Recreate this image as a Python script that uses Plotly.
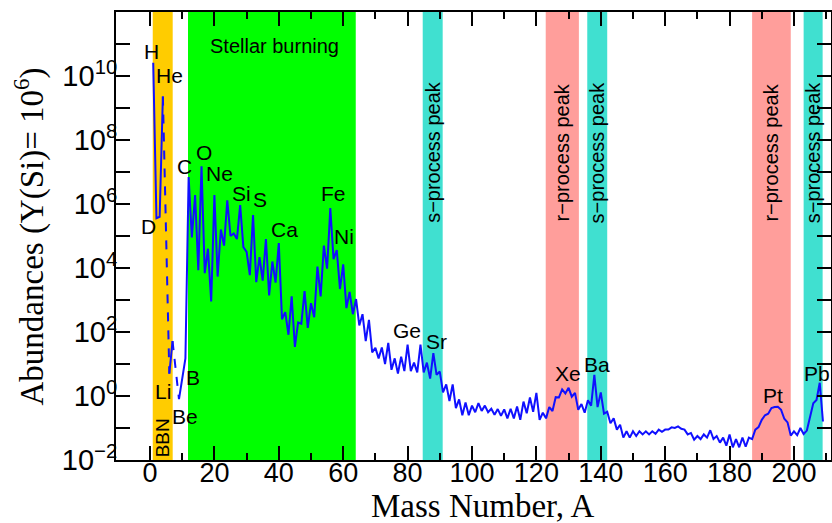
import plotly.graph_objects as go

# ---------------- data ----------------
mass = [1, 2, 3, 4, 6, 7, 9, 10, 11] + list(range(12, 210))

abund = [
    2.6e10, 3.6e5, 4.0e5, 2.3e9,          # 1,2,3,4
    5.0, 52.0, 0.8, 4.0, 15.0,             # 6,7,9,10,11
    # 12-40
    7.0e6, 9.0e4, 1.9e6, 8.5e3, 1.5e7, 6.9e3, 4.0e4, 900.0, 1.9e6,
    5.4e3, 1.6e5, 5.0e4, 1.3e6, 1.0e5, 1.2e5, 8.0e4, 9.2e5, 4.5e4,
    3.2e4, 6.0e3, 4.5e5, 3.6e3, 2.2e4, 4.0e3, 8.0e4, 1.4e3, 1.6e4,
    3.5e3, 6.0e4,
    # 41-70
    250.0, 420.0, 82.0, 1.3e3, 34.0, 200.0, 180.0, 1.9e3, 135.0, 800.0,
    290.0, 1.1e4, 1.3e3, 5.0e4, 9.5e3, 7.5e5, 1.9e4, 3.6e4, 2.2e3, 1.3e4,
    560.0, 1.8e3, 360.0, 1.07e3, 160.0, 360.0, 52.0, 240.0, 23.0, 32.0,
    # 71-100
    15.0, 33.0, 10.0, 46.0, 6.6, 15.0, 5.0, 17.0, 6.0, 40.0,
    6.0, 11.0, 5.5, 40.0, 5.5, 11.0, 3.5, 22.0, 4.6, 5.8,
    1.3, 2.3, 0.7, 2.3, 0.42, 0.78, 0.25, 0.63, 0.25, 0.5,
    # 101-140
    0.31, 0.6, 0.34, 0.5, 0.31, 0.4, 0.26, 0.39, 0.24, 0.38,
    0.2, 0.4, 0.2, 0.47, 0.18, 0.67, 0.29, 0.9, 0.32, 1.25,
    0.18, 0.3, 0.2, 0.45, 0.34, 0.92, 0.9, 1.6, 1.2, 1.8,
    0.95, 1.25, 0.37, 0.56, 0.3, 0.73, 0.5, 4.6, 0.45, 1.3,
    # 141-180
    0.28, 0.32, 0.14, 0.2, 0.089, 0.126, 0.05, 0.079, 0.05, 0.079,
    0.056, 0.079, 0.063, 0.079, 0.063, 0.079, 0.066, 0.089, 0.076, 0.089,
    0.089, 0.105, 0.1, 0.112, 0.095, 0.089, 0.063, 0.07, 0.043, 0.056,
    0.045, 0.063, 0.05, 0.085, 0.045, 0.056, 0.035, 0.05, 0.028, 0.063,
    # 181-209
    0.025, 0.045, 0.025, 0.05, 0.026, 0.05, 0.045, 0.089, 0.107, 0.18,
    0.25, 0.28, 0.42, 0.45, 0.46, 0.37, 0.195, 0.15, 0.058, 0.079,
    0.06, 0.1, 0.065, 0.083, 0.2, 0.59, 0.75, 2.6, 0.16,
]

# shaded regions (mass number ranges)
band_x0 = [0.85, 11.8, 84.7, 122.9, 135.8, 187.0, 203.0]
band_x1 = [7.05, 63.9, 90.9, 133.2, 142.0, 199.0, 208.9]
band_col = ["#FFCC00", "#00FF00", "#40E0D0", "#FF9E9B", "#40E0D0", "#FF9E9B", "#40E0D0"]

peak_labels = ["s\u2212process peak", "r\u2212process peak", "s\u2212process peak",
               "r\u2212process peak", "s\u2212process peak"]

elem_names = ["H", "He", "D", "Li", "Be", "B", "C", "O", "Ne", "Si", "S", "Ca",
              "Fe", "Ni", "Ge", "Sr", "Xe", "Ba", "Pt", "Pb"]
elem_x = [0.5, 6.2, -0.5, 3.9, 10.9, 13.4, 10.8, 16.8, 21.5, 28.5, 34.2, 41.9,
          57.1, 60.2, 79.7, 89.0, 129.7, 138.7, 193.4, 207.0]
elem_logy = [10.76, 10.03, 5.29, 0.13, -0.65, 0.57, 7.18, 7.62, 6.94, 6.33, 6.13, 5.19,
             6.33, 4.98, 2.04, 1.70, 0.69, 0.97, 0.03, 0.71]

x_ticks = list(range(0, 201, 20))
y_exps = list(range(-2, 13))

# ---------------- figure ----------------
fig = go.Figure()

line_style = dict(color="#1010FF", width=2)

def seg(i0, i1, dash):
    fig.add_trace(go.Scatter(x=mass[i0:i1 + 1], y=abund[i0:i1 + 1], mode="lines",
                             line=dict(dash=dash, **line_style), showlegend=False,
                             hoverinfo="skip"))

seg(0, 3, "solid")     # H, D, He3, He4
seg(3, 4, "dash")      # He4 -> Li6
seg(4, 5, "solid")     # Li6 -> Li7
seg(5, 6, "dash")      # Li7 -> Be9
seg(6, len(mass) - 1, "solid")

shapes = []
for x0, x1, c in zip(band_x0, band_x1, band_col):
    shapes.append(dict(type="rect", xref="x", yref="paper", x0=x0, x1=x1, y0=0, y1=1,
                       fillcolor=c, line=dict(width=0), layer="below"))

ann = []
sans = "Liberation Sans, Arial, sans-serif"
for name, x, ly in zip(elem_names, elem_x, elem_logy):
    ann.append(dict(x=x, y=ly, xref="x", yref="y", text=name, showarrow=False,
                    font=dict(family=sans, size=21, color="black")))

for lab, x0, x1 in zip(peak_labels, band_x0[2:], band_x1[2:]):
    ann.append(dict(x=(x0 + x1) / 2, y=7.62, xref="x", yref="y", text=lab, textangle=-90,
                    showarrow=False, font=dict(family=sans, size=20, color="black")))

ann.append(dict(x=(band_x0[1] + band_x1[1]) / 2 + 0.9, y=10.94, xref="x", yref="y",
                text="Stellar burning", showarrow=False,
                font=dict(family=sans, size=20, color="black")))
ann.append(dict(x=(band_x0[0] + band_x1[0]) / 2, y=-1.3, xref="x", yref="y", text="BBN",
                textangle=-90, showarrow=False,
                font=dict(family=sans, size=19, color="black")))

serif = "Liberation Serif, Times New Roman, serif"
ann.append(dict(x=0.512, y=-0.103, xref="paper", yref="paper", text="Mass Number, A",
                showarrow=False, xanchor="center", yanchor="middle",
                font=dict(family=serif, size=33, color="black")))
ann.append(dict(x=-0.121, y=0.5, xref="paper", yref="paper",
                text="Abundances (Y(Si)= 10<sup>6</sup>)", textangle=-90,
                showarrow=False, xanchor="center", yanchor="middle",
                font=dict(family=serif, size=33, color="black")))

ytext = []
for e in y_exps:
    if e % 2 == 0:
        s = str(e).replace("-", "\u2212")
        ytext.append("10<sup>" + s + "</sup>")
    else:
        ytext.append("")

fig.update_layout(
    width=832, height=523,
    margin=dict(l=116, r=1, t=12, b=63, autoexpand=False),
    paper_bgcolor="white", plot_bgcolor="white",
    shapes=shapes, annotations=ann,
    xaxis=dict(range=[-10.56, 211.5], tickvals=x_ticks, ticks="inside", ticklen=14,
               tickwidth=2, tickcolor="black", showline=True, linewidth=2, linecolor="black",
               mirror="ticks", showgrid=False, zeroline=False, automargin=False,
               ticklabelstandoff=-12,
               tickfont=dict(family=sans, size=27, color="black"),
               minor=dict(tickvals=list(range(10, 211, 20)), ticks="inside", ticklen=7,
                          tickwidth=2, tickcolor="black", showgrid=False)),
    yaxis=dict(type="log", range=[-2, 12], tickvals=[10.0 ** e for e in y_exps],
               ticktext=ytext, ticks="inside", ticklen=14, tickwidth=2, tickcolor="black",
               showline=True, linewidth=2, linecolor="black", mirror="ticks",
               showgrid=False, zeroline=False, automargin=False,
               ticklabelstandoff=-9,
               tickfont=dict(family=sans, size=29, color="black")),
)

fig.write_html("out.html", config={"displayModeBar": False},
               post_script="document.body.style.margin='0';")
